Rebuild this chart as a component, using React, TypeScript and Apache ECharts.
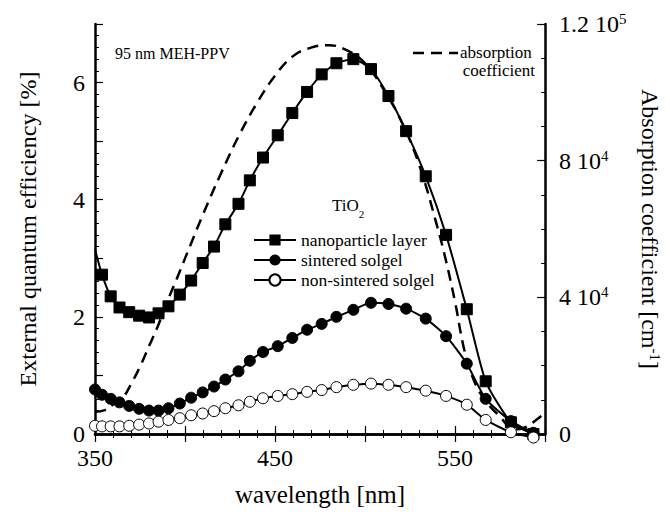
import React, { useEffect, useRef } from 'react';
import * as echarts from 'echarts';

const WAVELENGTH = [
  350.0, 353.9, 358.7, 363.6, 369.0, 374.5, 380.0, 385.3, 390.8, 397.1, 403.4,
  409.8, 416.1, 422.4, 429.7, 436.0, 443.3, 451.5, 459.6, 467.8, 475.9, 484.1,
  493.5, 503.3, 513.0, 522.8, 533.7, 545.0, 556.5, 567.0, 581.0, 593.5,
];
// External quantum efficiency [%]
const NANOPARTICLE = [
  3.15, 2.72, 2.35, 2.16, 2.08, 2.02, 1.99, 2.06, 2.18, 2.38, 2.62,
  2.92, 3.2, 3.58, 3.93, 4.33, 4.72, 5.1, 5.48, 5.84, 6.14, 6.33,
  6.4, 6.23, 5.77, 5.17, 4.4, 3.4, 2.13, 0.9, 0.2, 0.0,
];
const SINTERED = [
  0.76, 0.67, 0.6, 0.54, 0.48, 0.43, 0.4, 0.4, 0.44, 0.52, 0.62,
  0.71, 0.81, 0.93, 1.07, 1.25, 1.4, 1.5, 1.64, 1.78, 1.88, 2.0,
  2.12, 2.24, 2.22, 2.14, 1.97, 1.67, 1.2, 0.6, 0.22, 0.02,
];
const NON_SINTERED = [
  0.14, 0.13, 0.13, 0.13, 0.14, 0.16, 0.18, 0.21, 0.24, 0.27, 0.32,
  0.35, 0.39, 0.44, 0.49, 0.55, 0.61, 0.65, 0.68, 0.72, 0.75, 0.8,
  0.84, 0.86, 0.84, 0.8, 0.74, 0.65, 0.5, 0.24, 0.03, -0.06,
];
// Absorption coefficient [cm-1]
const ABS_WAVELENGTH = [
  350, 355, 360, 365, 370, 375, 380, 385, 390, 395, 400, 405, 410, 420, 430,
  440, 450, 460, 470, 480, 490, 500, 510, 520, 530, 540, 545, 550, 555, 560,
  565, 570, 575, 580, 585, 590, 595, 600,
];
const ABS_COEFF = [
  6500, 6900, 8600, 10300, 14600, 19700, 25700, 31700, 38600, 44900, 51400,
  57900, 64300, 76300, 87400, 96900, 104900, 110600, 113100, 113800, 112300,
  108500, 101100, 91700, 78900, 60900, 50600, 38600, 24900, 16300, 11100, 7700,
  5100, 2100, 1400, 2200, 4100, 6200,
];

const X_LABELS = [350, 450, 550];
const Y_LEFT_LABELS = [0, 2, 4, 6];
const Y_RIGHT_TICKS = [0, 40000, 80000, 120000];
const Y_RIGHT_LABELS = ['0', '4 10{sup|4}', '8 10{sup|4}', '1.2 10{sup|5}'];

const SERIES_NAMES = ['nanoparticle layer', 'sintered solgel', 'non-sintered solgel'];

const FONT = "'Liberation Serif', 'Times New Roman', serif";

export default function App() {
  const ref = useRef<HTMLDivElement>(null);
  useEffect(() => {
    if (!ref.current) return;
    const chart = echarts.init(ref.current, undefined, { renderer: 'svg' });
    const axisLine = { show: true, lineStyle: { color: '#000', width: 2.5 } };
    const tick = { show: true, inside: true, length: 8, lineStyle: { color: '#000', width: 1.2 } };
    const minor = (n: number) => ({ show: true, splitNumber: n, length: 4, lineStyle: { color: '#000', width: 1 } });

    const mk = (ys: number[], first: boolean) =>
      WAVELENGTH.map((x, i) =>
        first && i === 0 ? { value: [x, ys[i]], symbol: 'none' } : [x, ys[i]]
      );

    chart.setOption({
      animation: false,
      textStyle: { fontFamily: FONT, color: '#000' },
      grid: { left: 95, right: 115, top: 24, bottom: 77, containLabel: false },
      legend: {
        data: SERIES_NAMES,
        orient: 'vertical',
        left: 253,
        top: 231,
        padding: 0,
        itemGap: 2,
        itemWidth: 42,
        itemHeight: 14,
        textStyle: { fontFamily: FONT, fontSize: 17.5, color: '#000' },
        selectedMode: false,
      },
      xAxis: [
        {
          type: 'value',
          position: 'bottom',
          min: 350,
          max: 600,
          interval: 50,
          axisLine,
          axisTick: tick,
          minorTick: minor(5),
          splitLine: { show: false },
          axisLabel: {
            fontFamily: FONT,
            fontSize: 24,
            color: '#000',
            margin: 12,
            formatter: (v: number) => (X_LABELS.includes(v) ? String(v) : ''),
          },
          name: 'wavelength [nm]',
          nameLocation: 'middle',
          nameGap: 48,
          nameTextStyle: { fontFamily: FONT, fontSize: 25, color: '#000' },
        },
        {
          type: 'value',
          position: 'top',
          min: 350,
          max: 600,
          interval: 50,
          axisLine,
          axisTick: tick,
          minorTick: minor(5),
          splitLine: { show: false },
          axisLabel: { show: false },
        },
      ],
      yAxis: [
        {
          type: 'value',
          position: 'left',
          min: 0,
          max: 7,
          interval: 1,
          axisLine,
          axisTick: tick,
          minorTick: minor(5),
          splitLine: { show: false },
          axisLabel: {
            fontFamily: FONT,
            fontSize: 24,
            color: '#000',
            margin: 10,
            formatter: (v: number) => (Y_LEFT_LABELS.includes(v) ? String(v) : ''),
          },
          name: 'External quantum efficiency [%]',
          nameLocation: 'middle',
          nameRotate: 90,
          nameGap: 55,
          nameTextStyle: { fontFamily: FONT, fontSize: 24, color: '#000' },
        },
        {
          type: 'value',
          position: 'right',
          min: 0,
          max: 120000,
          interval: 40000,
          axisLine,
          axisTick: tick,
          minorTick: minor(4),
          splitLine: { show: false },
          axisLabel: {
            fontFamily: FONT,
            fontSize: 24,
            color: '#000',
            margin: 14,
            formatter: (v: number) => {
              const i = Y_RIGHT_TICKS.indexOf(v);
              return i >= 0 ? Y_RIGHT_LABELS[i] : '';
            },
            rich: {
              sup: { fontFamily: FONT, fontSize: 15, verticalAlign: 'top', padding: [0, 0, 10, 0] },
            },
          },
          name: '{a|Absorption coefficient [cm}{sup|-1}{a|]}',
          nameLocation: 'middle',
          nameRotate: -90,
          nameGap: 85,
          nameTextStyle: {
            fontFamily: FONT,
            fontSize: 24,
            color: '#000',
            rich: {
              a: { fontFamily: FONT, fontSize: 24 },
              sup: { fontFamily: FONT, fontSize: 15, verticalAlign: 'top', padding: [0, 0, 10, 0] },
            },
          },
        },
      ],
      graphic: [
        {
          type: 'text',
          x: 115,
          y: 53,
          style: { text: '95 nm MEH-PPV', font: `16px ${FONT}`, fill: '#000', verticalAlign: 'middle', textVerticalAlign: 'middle' },
        },
        {
          type: 'line',
          shape: { x1: 413, y1: 53, x2: 458, y2: 53 },
          style: { stroke: '#000', lineWidth: 2.5, lineDash: [11, 7] },
        },
        {
          type: 'text',
          x: 460,
          y: 52,
          style: { text: 'absorption', font: `17px ${FONT}`, fill: '#000', verticalAlign: 'middle', textVerticalAlign: 'middle' },
        },
        {
          type: 'text',
          x: 535,
          y: 70,
          style: { text: 'coefficient', font: `17px ${FONT}`, fill: '#000', align: 'right', textAlign: 'right', verticalAlign: 'middle', textVerticalAlign: 'middle' },
        },
        {
          type: 'text',
          x: 332,
          y: 208,
          style: {
            text: '{a|TiO}{s|2}',
            fill: '#000',
            verticalAlign: 'middle',
            textVerticalAlign: 'middle',
            rich: {
              a: { fontFamily: FONT, fontSize: 17, lineHeight: 22, verticalAlign: 'top' },
              s: { fontFamily: FONT, fontSize: 11, lineHeight: 22, verticalAlign: 'bottom', padding: [8, 0, 0, 0] },
            },
          },
        },
      ],
      series: [
        {
          name: 'absorption coefficient',
          type: 'line',
          xAxisIndex: 0,
          yAxisIndex: 1,
          data: ABS_WAVELENGTH.map((x, i) => [x, ABS_COEFF[i]]),
          smooth: 0.4,
          symbol: 'none',
          lineStyle: { color: '#000', width: 2.5, type: [11, 7] },
          z: 1,
        },
        {
          name: SERIES_NAMES[0],
          type: 'line',
          xAxisIndex: 0,
          yAxisIndex: 0,
          data: mk(NANOPARTICLE, true),
          symbol: 'rect',
          symbolSize: 11,
          smooth: 0.2,
          lineStyle: { color: '#000', width: 2 },
          itemStyle: { color: '#000', borderColor: '#000' },
          z: 3,
        },
        {
          name: SERIES_NAMES[1],
          type: 'line',
          xAxisIndex: 0,
          yAxisIndex: 0,
          data: mk(SINTERED, false),
          symbol: 'circle',
          symbolSize: 11,
          smooth: 0.2,
          lineStyle: { color: '#000', width: 2 },
          itemStyle: { color: '#000', borderColor: '#000' },
          z: 3,
        },
        {
          name: SERIES_NAMES[2],
          type: 'line',
          xAxisIndex: 0,
          yAxisIndex: 0,
          data: mk(NON_SINTERED, false),
          symbol: 'circle',
          symbolSize: 11,
          smooth: 0.2,
          clip: false,
          lineStyle: { color: '#000', width: 2 },
          itemStyle: { color: '#fff', borderColor: '#000', borderWidth: 1 },
          z: 3,
        },
      ],
    });
    return () => chart.dispose();
  }, []);
  return (
    <div
      ref={ref}
      style={{ position: 'absolute', left: 0, top: 0, width: 670, height: 512, background: '#fff' }}
    />
  );
}
